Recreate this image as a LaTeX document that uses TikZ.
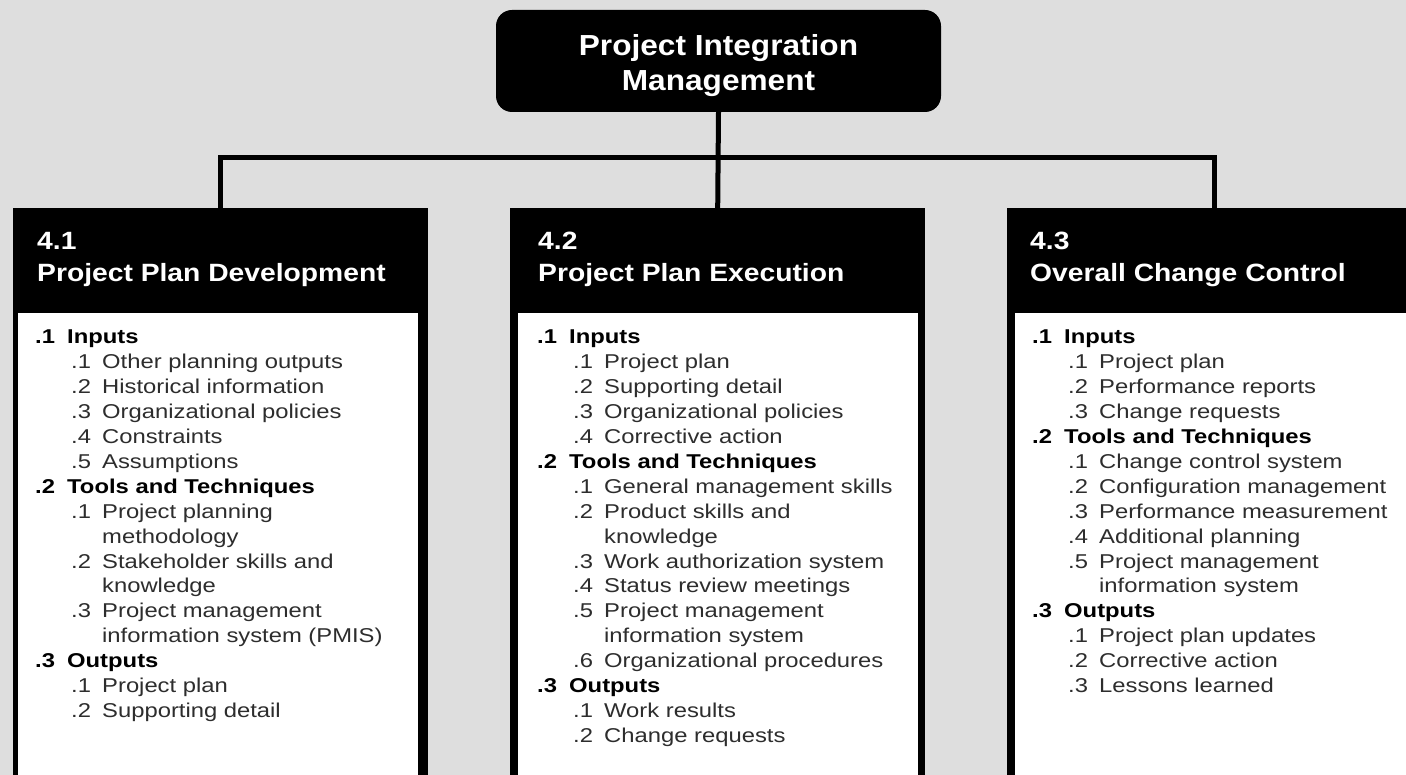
\documentclass[tikz,border=0pt]{standalone}
\usepackage{fontspec}
\setmainfont{Liberation Sans}
\newfontfamily\topfont[FakeStretch=1.09]{Liberation Sans}
\newfontfamily\hdrfont[FakeStretch=1.13]{Liberation Sans}
\newfontfamily\bodyfont[FakeStretch=1.19]{Liberation Sans}
\definecolor{bg}{RGB}{222,222,222}
\definecolor{itemc}{RGB}{45,45,45}
\newcommand\hd[2]{\makebox[32pt][l]{\bfseries #1}\textbf{#2}}
\newcommand\itm[2]{\hspace*{36pt}\makebox[31pt][l]{\textcolor{itemc}{#1}}\textcolor{itemc}{#2}}
\newcommand\cnt[1]{\hspace*{67pt}\textcolor{itemc}{#1}}
\tikzset{
  topbox/.style={fill=black, rounded corners=16pt, minimum width=445pt, minimum height=102pt,
    inner sep=0pt, text=white, align=center, font=\topfont\bfseries\fontsize{29}{35}\selectfont},
  hdrbox/.style={fill=black, anchor=north west, minimum width=415pt, minimum height=600pt, inner sep=0pt},
  bodybox/.style={fill=white, anchor=north west, minimum height=500pt, inner sep=0pt},
  hnum/.style={anchor=base west, inner sep=0pt, text=white, font=\hdrfont\bfseries\fontsize{25}{30}\selectfont},
  listtext/.style={anchor=base west, inner sep=0pt, text=black, font=\bodyfont\fontsize{20}{24.9}\selectfont},
  conn/.style={line width=5pt, line join=miter}
}
\begin{document}
\begin{tikzpicture}[x=1pt,y=-1pt]
\clip (0,0) rectangle (1406,775);
\fill[bg] (0,0) rectangle (1406,775);

% top node
\node[topbox] (top) at (718.5,61) {\rule{0pt}{30pt}Project Integration\\Management};

% boxes
\node[hdrbox] (b1) at (13,208) {};
\node[hdrbox] (b2) at (510,208) {};
\node[hdrbox] (b3) at (1007,208) {};
\node[bodybox, minimum width=400pt] (w1) at (18,313) {};
\node[bodybox, minimum width=400pt] (w2) at (518,313) {};
\node[bodybox, minimum width=410pt] (w3) at (1015,313) {};

% connectors
\coordinate (bus) at (718,158);
\draw[conn] (b1.north) |- (bus) -| (b3.north);
\draw[conn] (top.south) -- (b2.north);

% header texts
\node[hnum] (n1) at (37,250) {4.1};
\node[hnum] (t1) at (37,282) {Project Plan Development};
\node[hnum] (n2) at (538,250) {4.2};
\node[hnum] (t2) at (538,282) {Project Plan Execution};
\node[hnum] (n3) at (1030,250) {4.3};
\node[hnum] (t3) at (1030,282) {Overall Change Control};

% lists
\node[listtext] (l1) at (35,344) {\begin{tabular}[t]{@{}l@{}}
\hd{.1}{Inputs}\\
\itm{.1}{Other planning outputs}\\
\itm{.2}{Historical information}\\
\itm{.3}{Organizational policies}\\
\itm{.4}{Constraints}\\
\itm{.5}{Assumptions}\\
\hd{.2}{Tools and Techniques}\\
\itm{.1}{Project planning}\\
\cnt{methodology}\\
\itm{.2}{Stakeholder skills and}\\
\cnt{knowledge}\\
\itm{.3}{Project management}\\
\cnt{information system (PMIS)}\\
\hd{.3}{Outputs}\\
\itm{.1}{Project plan}\\
\itm{.2}{Supporting detail}
\end{tabular}};

\node[listtext] (l2) at (537,344) {\begin{tabular}[t]{@{}l@{}}
\hd{.1}{Inputs}\\
\itm{.1}{Project plan}\\
\itm{.2}{Supporting detail}\\
\itm{.3}{Organizational policies}\\
\itm{.4}{Corrective action}\\
\hd{.2}{Tools and Techniques}\\
\itm{.1}{General management skills}\\
\itm{.2}{Product skills and}\\
\cnt{knowledge}\\
\itm{.3}{Work authorization system}\\
\itm{.4}{Status review meetings}\\
\itm{.5}{Project management}\\
\cnt{information system}\\
\itm{.6}{Organizational procedures}\\
\hd{.3}{Outputs}\\
\itm{.1}{Work results}\\
\itm{.2}{Change requests}
\end{tabular}};

\node[listtext] (l3) at (1032,344) {\begin{tabular}[t]{@{}l@{}}
\hd{.1}{Inputs}\\
\itm{.1}{Project plan}\\
\itm{.2}{Performance reports}\\
\itm{.3}{Change requests}\\
\hd{.2}{Tools and Techniques}\\
\itm{.1}{Change control system}\\
\itm{.2}{Configuration management}\\
\itm{.3}{Performance measurement}\\
\itm{.4}{Additional planning}\\
\itm{.5}{Project management}\\
\cnt{information system}\\
\hd{.3}{Outputs}\\
\itm{.1}{Project plan updates}\\
\itm{.2}{Corrective action}\\
\itm{.3}{Lessons learned}
\end{tabular}};
\end{tikzpicture}
\end{document}
